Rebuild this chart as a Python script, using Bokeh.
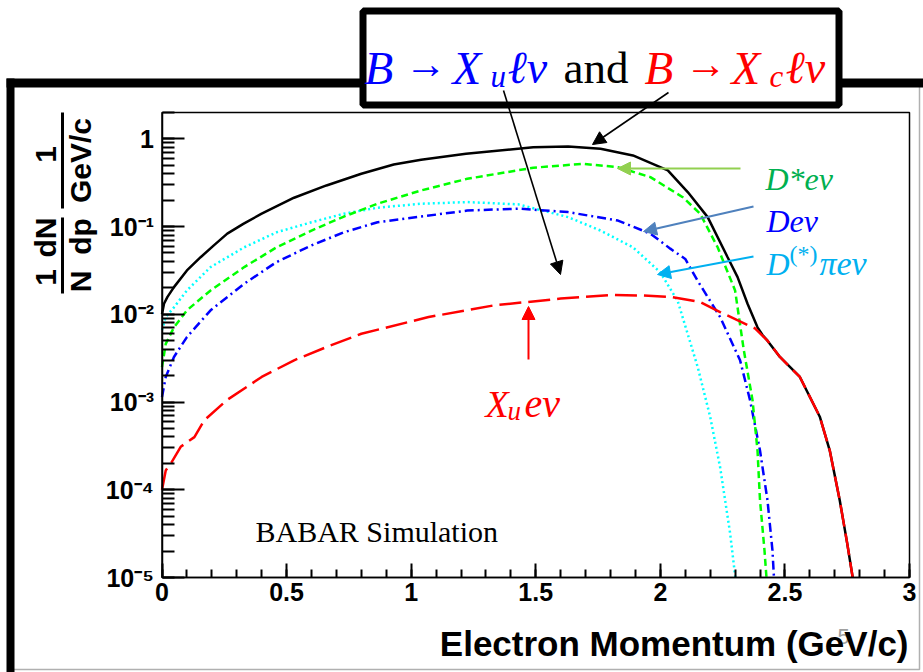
import math
from bokeh.plotting import figure
from bokeh.models import (Range1d, Label, Arrow, NormalHead, BoxAnnotation, LinearAxis, LogAxis,
                          LogTicker, SingleIntervalTicker, CustomJSTickFormatter)
from bokeh.embed import file_html
from bokeh.resources import INLINE

# ---------------- data ----------------
total_x = [0, 0.008, 0.022, 0.048, 0.10, 0.155, 0.208, 0.262, 0.328, 0.40, 0.53, 0.66, 0.80,
           0.93, 1.04, 1.22, 1.49, 1.63, 1.76, 1.89, 2.03, 2.11, 2.19, 2.27, 2.31, 2.35,
           2.39, 2.41, 2.43, 2.48, 2.56, 2.64, 2.68, 2.72, 2.75, 2.772]
total_y = [1.0e-2, 1.32e-2, 1.58e-2, 2.04e-2, 3.16e-2, 4.47e-2, 6.1e-2, 8.3e-2, 0.108, 0.140,
           0.213, 0.294, 0.399, 0.509, 0.577, 0.675, 0.80, 0.817, 0.769, 0.646, 0.436, 0.247,
           0.128, 4.47e-2, 2.65e-2, 1.32e-2, 7.1e-3, 5.8e-3, 5.0e-3, 3.26e-3, 1.93e-3, 6.8e-4,
           2.8e-4, 7.6e-5, 2.45e-5, 1.0e-5]

xu_x = [0, 0.015, 0.04, 0.075, 0.13, 0.17, 0.26, 0.40, 0.53, 0.66, 0.80, 1.07, 1.33, 1.60,
        1.80, 1.92, 2.04, 2.16, 2.24, 2.38, 2.43, 2.48, 2.56, 2.64, 2.68, 2.72, 2.75, 2.772]
xu_y = [1.0e-4, 1.66e-4, 2.09e-4, 3.09e-4, 3.98e-4, 6.2e-4, 1.05e-3, 1.93e-3, 2.99e-3,
        4.23e-3, 6.0e-3, 9.3e-3, 1.26e-2, 1.51e-2, 1.66e-2, 1.64e-2, 1.58e-2, 1.38e-2,
        1.06e-2, 6.9e-3, 5.0e-3, 3.26e-3, 1.93e-3, 6.8e-4, 2.8e-4, 7.6e-5, 2.45e-5, 1.0e-5]

dstar_x = [0, 0.015, 0.048, 0.10, 0.195, 0.33, 0.46, 0.60, 0.73, 0.865, 1.04, 1.225, 1.49,
           1.69, 1.83, 1.96, 2.09, 2.16, 2.23, 2.30, 2.335, 2.37, 2.39, 2.40, 2.418, 2.426]
dstar_y = [2.5e-3, 4.6e-3, 7.1e-3, 1.11e-2, 1.87e-2, 3.45e-2, 5.8e-2, 9.0e-2, 0.130, 0.182,
           0.258, 0.350, 0.468, 0.519, 0.475, 0.366, 0.216, 0.140, 5.8e-2, 1.87e-2, 3.9e-3,
           1.05e-3, 2.8e-4, 7.6e-5, 2.04e-5, 1.0e-5]

d_x = [0, 0.015, 0.048, 0.10, 0.195, 0.33, 0.46, 0.60, 0.73, 0.865, 1.04, 1.225, 1.43, 1.63,
       1.83, 1.96, 2.04, 2.10, 2.15, 2.24, 2.32, 2.36, 2.40, 2.43, 2.45, 2.456]
d_y = [1.14e-3, 1.93e-3, 3.26e-3, 5.5e-3, 1.11e-2, 2.23e-2, 3.94e-2, 6.1e-2, 8.6e-2, 0.112,
       0.130, 0.152, 0.160, 0.146, 0.117, 8.3e-2, 5.6e-2, 4.27e-2, 2.4e-2, 9.3e-3, 2.99e-3,
       1.05e-3, 2.8e-4, 7.6e-5, 2.04e-5, 1.0e-5]

dpi_x = [0, 0.015, 0.048, 0.10, 0.195, 0.33, 0.46, 0.60, 0.73, 0.865, 1.04, 1.225, 1.43, 1.63,
         1.76, 1.89, 2.0, 2.07, 2.15, 2.20, 2.24, 2.28, 2.301]
dpi_y = [6.6e-3, 9.3e-3, 1.2e-2, 1.87e-2, 3.45e-2, 5.8e-2, 8.6e-2, 0.112, 0.140, 0.164, 0.182,
         0.190, 0.179, 0.128, 9.0e-2, 5.8e-2, 3.0e-2, 1.41e-2, 2.5e-3, 6.8e-4, 1.8e-4, 3.2e-5,
         1.0e-5]

x_bounds = (0, 3)
y_bounds = (1e-5, 2)
x_title = "Electron Momentum (GeV/c)"
sim_text = "BABAR Simulation"

# ---------------- layout: frame covers the whole canvas ----------------
W, H = 923, 672
PX_X0, PX_X1 = 161.5, 909.0      # pixel positions of x = 0 and x = 3
PY_LO, PY_DEC = 577.0, 87.74     # pixel of y = 1e-5, pixels per decade
ppu = (PX_X1 - PX_X0) / (x_bounds[1] - x_bounds[0])
xr0 = x_bounds[0] - PX_X0 / ppu
xr1 = xr0 + W / ppu
lo = math.log10(y_bounds[0])
yr1 = 10 ** (lo + PY_LO / PY_DEC)
yr0 = 10 ** (lo - (H - PY_LO) / PY_DEC)

p = figure(width=W, height=H, x_range=Range1d(xr0, xr1), y_range=Range1d(yr0, yr1),
           y_axis_type="log", x_axis_location=None, y_axis_location=None,
           output_backend="svg", toolbar_location=None, min_border=0)
p.grid.visible = False
p.background_fill_color = "white"
p.border_fill_color = "white"
p.outline_line_color = None

xax = LinearAxis(fixed_location=y_bounds[0], bounds=x_bounds,
                 ticker=SingleIntervalTicker(interval=0.5, num_minor_ticks=5),
                 formatter=CustomJSTickFormatter(code="return String(Math.round(tick*10)/10);"))
yax = LogAxis(fixed_location=x_bounds[0], bounds=y_bounds,
              ticker=LogTicker(num_minor_ticks=10),
              formatter=CustomJSTickFormatter(code="""
const sup = {"-":"\u207b","0":"\u2070","1":"\u00b9","2":"\u00b2","3":"\u00b3","4":"\u2074",
             "5":"\u2075","6":"\u2076","7":"\u2077","8":"\u2078","9":"\u2079"};
const e = Math.round(Math.log10(tick));
if (e === 0) return "1";
if (e === 1) return "10";
return "10" + String(e).split("").map(c => sup[c]).join("");
"""))
for ax in (xax, yax):
    ax.axis_line_width = 1.5
    ax.major_tick_line_width = 2
    ax.minor_tick_line_width = 2
    ax.major_tick_out = 0
    ax.minor_tick_out = 0
    ax.major_label_text_font = "Liberation Sans"
    ax.major_label_text_font_style = "bold"
    ax.major_label_text_font_size = "25px"
    ax.major_label_text_color = "black"
xax.major_tick_in = 14
xax.minor_tick_in = 8
yax.major_tick_in = 22
yax.minor_tick_in = 12
xax.major_label_standoff = 5
yax.major_label_standoff = 8
p.add_layout(xax, "below")
p.add_layout(yax, "left")

# plot frame (top/right edges)
p.add_layout(BoxAnnotation(left=x_bounds[0], right=x_bounds[1], bottom=y_bounds[0],
                           top=y_bounds[1], fill_alpha=0, line_color="black",
                           line_alpha=1, line_width=1.5))

# curves
p.line(total_x, total_y, line_color="black", line_width=2.5)
p.line(dpi_x, dpi_y, line_color="#00ffff", line_width=2.5, line_dash="2 3")
p.line(d_x, d_y, line_color="#0000ff", line_width=2.5, line_dash="9 4 2 4")
p.line(dstar_x, dstar_y, line_color="#00ff00", line_width=2.5, line_dash="7 4")
p.line(xu_x, xu_y, line_color="#ff0000", line_width=2.5, line_dash="22 7")

C = dict(x_units="canvas", y_units="canvas")
BC = dict(left_units="canvas", right_units="canvas", top_units="canvas", bottom_units="canvas")

# outer slide frame
p.add_layout(BoxAnnotation(left=10, right=919, top=82, bottom=669, fill_alpha=0,
                           line_color="#b0b0b0", line_alpha=1, line_width=1.5, **BC))
for l, r, t, b in [(6, 923, 78, 87), (6, 14, 78, 672)]:
    p.add_layout(BoxAnnotation(left=l, right=r, top=t, bottom=b, fill_color="black",
                               fill_alpha=1, line_alpha=0, **BC))

# title box
p.add_layout(BoxAnnotation(left=362.5, right=838.5, top=10.5, bottom=104.5,
                           fill_color="white", fill_alpha=1, line_color="black",
                           line_alpha=1, line_width=7, **BC))

def lab(x, y, text, color, size, font="Liberation Serif", style="italic",
        align="left", baseline="alphabetic", angle=0):
    p.add_layout(Label(x=x, y=y, text=text, text_color=color, text_font=font,
                       text_font_size=f"{size}px", text_font_style=style,
                       text_align=align, text_baseline=baseline, angle=angle, **C))

blue, red = "#0000ff", "#ff0000"
lab(364, 67, "B", blue, 47)
lab(404, 63, "\u2192", blue, 42, style="normal")
lab(452, 67, "X", blue, 47)
lab(490, 76, "u", blue, 31)
lab(507, 67, "\u2113\u03bd", blue, 46)
lab(563, 67, "and", "black", 45, style="normal")
lab(644, 67, "B", red, 47)
lab(684, 63, "\u2192", red, 42, style="normal")
lab(731, 67, "X", red, 47)
lab(769, 76, "c", red, 31)
lab(785, 67, "\u2113\u03bd", red, 46)

# y-axis title (rotated fractions)
yl = dict(font="Liberation Sans", style="bold", align="center", baseline="middle",
          angle=math.pi / 2)
lab(45, 277, "1", "black", 30, **yl)
lab(80, 281, "N", "black", 30, **yl)
lab(45, 237, "dN", "black", 30, **yl)
lab(80, 236, "dp", "black", 30, **yl)
lab(45, 154, "1", "black", 30, **yl)
lab(80, 160, "GeV/c", "black", 30, **yl)
for t, b in [(112, 208), (217, 293)]:
    p.add_layout(BoxAnnotation(left=60.5, right=63.5, top=t, bottom=b, fill_color="black",
                               fill_alpha=1, line_alpha=0, **BC))

# x-axis title and slide number
lab(837, 636, "5", "#a0a0a0", 22, font="Liberation Sans", style="normal")
lab(908, 643, x_title, "black", 35, font="Liberation Sans", style="bold", align="right")

# simulation tag
lab(255, 531, sim_text, "black", 30, style="normal")

# curve labels
lab(765, 178, "D*e\u03bd", "#00b050", 32)
lab(766, 220, "De\u03bd", "#0000ff", 32)
lab(766, 263, "D", "#00b0f0", 32)
lab(789, 253, "(*)", "#00b0f0", 24, style="normal")
lab(819, 263, "\u03c0e\u03bd", "#00b0f0", 34)
lab(485, 403, "X", red, 38)
lab(507, 410, "u", red, 27)
lab(524, 403, "e\u03bd", red, 40)

# arrows
def arr(x0, y0, x1, y1, color, w=1.6, size=13):
    p.add_layout(Arrow(x_start=x0, y_start=y0, x_end=x1, y_end=y1,
                       start_units="canvas", end_units="canvas",
                       line_color=color, line_width=w,
                       end=NormalHead(size=size, fill_color=color, line_color=color)))

arr(503, 90, 560, 274, "black")
arr(668, 92, 592, 144, "black")
arr(740, 168, 617, 168, "#92d050", w=2)
arr(753, 206, 643, 231, "#4f81bd", w=2)
arr(753, 256, 657, 274, "#00b0f0", w=2)
arr(528, 359, 528, 306, "#ff0000", w=2)

open("out.html", "w").write(file_html(p, INLINE))
